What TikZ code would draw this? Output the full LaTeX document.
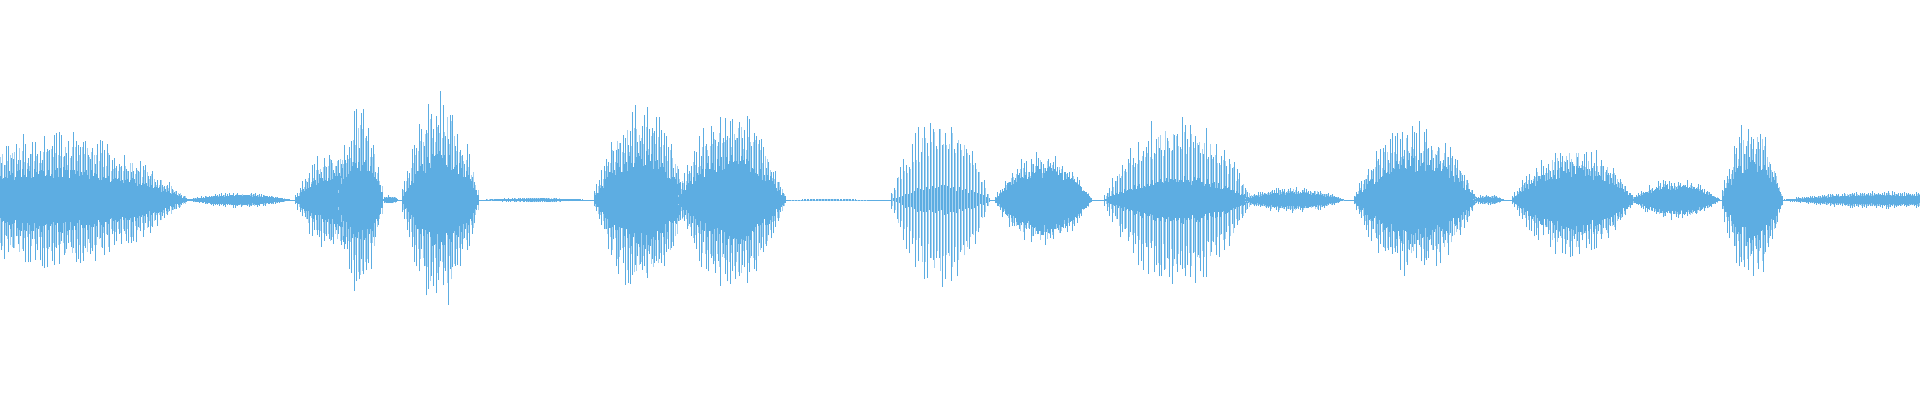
\documentclass[tikz,border=0pt]{standalone}
\definecolor{wv}{HTML}{5DADE2}
\definecolor{wvl}{HTML}{A8D3F1}
\newcommand\wseg[5]{%
  \pgfmathtruncatemacro\wN{(#2-#1)/#5}%
  \foreach \wi in {0,...,\wN}{%
    \pgfmathsetmacro\wX{#1+\wi*#5}%
    \pgfmathsetmacro\wU{2*\wi/\wN-1}%
    \pgfmathsetmacro\wE{1-\wU*\wU}%
    \pgfmathsetmacro\wA{#3*\wE*(0.55+0.45*rnd)}%
    \pgfmathsetmacro\wB{#3*\wE*(0.55+0.45*rnd)}%
    \pgfmathsetmacro\wC{#3*\wE*(0.5+0.3*rnd)}%
    \pgfmathsetmacro\wD{#4*\wE*(0.7+0.4*rnd)}%
    \pgfmathsetmacro\wF{#4*\wE*(0.7+0.4*rnd)}%
    \draw[wv,line width=0.7pt] (\wX,{200-\wA}) -- (\wX,{200+\wB});
    \draw[wvl,line width=0.6pt] ({\wX+0.5*#5},{200-\wC}) -- ({\wX+0.5*#5},{200+\wC});
    \draw[wv,line width=1.4pt] ({\wX+0.25*#5},{200-\wD}) -- ({\wX+0.25*#5},{200+\wF});
    \draw[wv,line width=1.4pt] ({\wX+0.75*#5},{200-\wF}) -- ({\wX+0.75*#5},{200+\wD});
  }%
}
\begin{document}
\begin{tikzpicture}[x=1pt,y=1pt]
\useasboundingbox (0,0) rectangle (1920,400);
\pgfmathsetseed{7}
\begin{scope}
\clip (0,0) rectangle (1920,400);
\draw[wv,line width=0.6pt] (0,200) -- (1920,200);
\wseg{-80}{190}{70}{30}{2.4}
\wseg{185}{292}{8}{5}{2}
\wseg{293}{380}{55}{25}{2.4}
\wseg{335}{385}{95}{40}{2.4}
\wseg{380}{398}{5}{3}{2}
\wseg{400}{480}{110}{45}{2.4}
\wseg{478}{590}{2.5}{1.5}{2}
\wseg{592}{690}{100}{45}{2.4}
\wseg{675}{787}{95}{42}{2.4}
\wseg{787}{870}{1}{1}{3}
\wseg{888}{992}{90}{14}{3}
\wseg{993}{1092}{50}{32}{2.4}
\wseg{1102}{1255}{90}{22}{2.6}
\wseg{1240}{1345}{14}{8}{2}
\wseg{1352}{1478}{80}{40}{2.4}
\wseg{1470}{1505}{6}{3}{2}
\wseg{1510}{1637}{60}{32}{2.4}
\wseg{1630}{1722}{22}{14}{2.2}
\wseg{1720}{1784}{85}{40}{2.4}
\wseg{1780}{1990}{9}{5}{2}
\end{scope}
\end{tikzpicture}
\end{document}
